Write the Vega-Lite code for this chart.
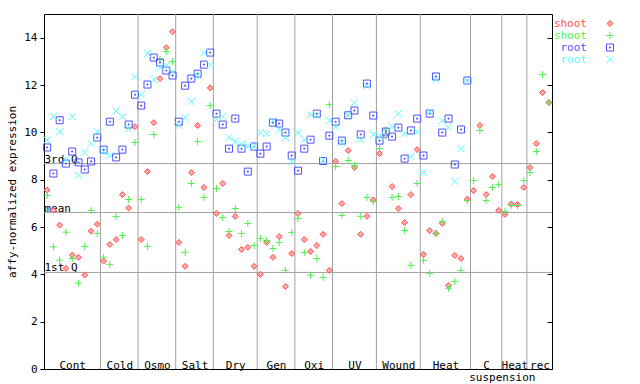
{
  "$schema": "https://vega.github.io/schema/vega-lite/v6.json",
  "width": 508,
  "height": 355,
  "autosize": {"type": "none"},
  "padding": {"left": 44, "top": 14, "right": 88, "bottom": 15},
  "config": {
    "view": {"stroke": "black", "strokeWidth": 1},
    "font": "DejaVu Sans Mono",
    "axis": {"labelFont": "DejaVu Sans Mono", "labelFontSize": 11, "labelColor": "black", "titleFont": "DejaVu Sans Mono", "titleFontSize": 11, "titleFontWeight": "normal", "titleColor": "black"},
    "axisX": {
      "labelExpr": "datum.value == 4 ? 'Cont' : datum.value == 11.5 ? 'Cold' : datum.value == 17.5 ? 'Osmo' : datum.value == 23.5 ? 'Salt' : datum.value == 30 ? 'Dry' : datum.value == 36.5 ? 'Gen' : datum.value == 42.5 ? 'Oxi' : datum.value == 49 ? 'UV' : datum.value == 56 ? 'Wound' : datum.value == 63.5 ? 'Heat' : datum.value == 70 ? 'C' : datum.value == 72.5 ? 'suspension' : datum.value == 74.5 ? 'Heat' : 'rec'",
      "ticks": false, "tickSize": 0, "domain": false, "grid": false, "title": null,
      "labelPadding": {"condition": {"test": "datum.value == 72.5", "value": 11.5}, "value": -1},
      "labelBaseline": "alphabetic", "labelAlign": "center", "labelOverlap": false, "labelFlush": false, "zindex": 1}
  },
  "datasets": {
    "groups": [
      {"condition": "Cont", "end": 8.5}, {"condition": "Cold", "end": 14.5}, {"condition": "Osmo", "end": 20.5},
      {"condition": "Salt", "end": 26.5}, {"condition": "Dry", "end": 33.5}, {"condition": "Gen", "end": 39.5},
      {"condition": "Oxi", "end": 45.5}, {"condition": "UV", "end": 52.5}, {"condition": "Wound", "end": 59.5},
      {"condition": "Heat", "end": 67.5}, {"condition": "C suspension", "end": 72.5}, {"condition": "Heat suspension", "end": 76.5}
    ],
    "quartiles": [
      {"stat": "3rd Q", "v": 8.68}, {"stat": "mean", "v": 6.61}, {"stat": "1st Q", "v": 4.08}
    ],
    "expr": [
      {"s":0,"series":"shoot1","v":7.56},{"s":1,"series":"shoot1","v":6.71},{"s":2,"series":"shoot1","v":6.08},{"s":3,"series":"shoot1","v":4.25},{"s":4,"series":"shoot1","v":4.81},{"s":5,"series":"shoot1","v":4.72},{"s":6,"series":"shoot1","v":3.97},{"s":7,"series":"shoot1","v":5.82},{"s":8,"series":"shoot1","v":6.12},{"s":9,"series":"shoot1","v":4.56},
      {"s":10,"series":"shoot1","v":5.26},{"s":11,"series":"shoot1","v":5.47},{"s":12,"series":"shoot1","v":7.37},{"s":13,"series":"shoot1","v":6.8},{"s":14,"series":"shoot1","v":10.24},{"s":15,"series":"shoot1","v":5.47},{"s":16,"series":"shoot1","v":8.34},{"s":17,"series":"shoot1","v":10.41},{"s":18,"series":"shoot1","v":12.27},{"s":19,"series":"shoot1","v":13.58},
      {"s":20,"series":"shoot1","v":14.25},{"s":21,"series":"shoot1","v":5.35},{"s":22,"series":"shoot1","v":4.34},{"s":23,"series":"shoot1","v":8.3},{"s":24,"series":"shoot1","v":10.29},{"s":25,"series":"shoot1","v":7.67},{"s":26,"series":"shoot1","v":11.88},{"s":27,"series":"shoot1","v":6.57},{"s":28,"series":"shoot1","v":7.84},{"s":29,"series":"shoot1","v":5.64},
      {"s":30,"series":"shoot1","v":6.45},{"s":31,"series":"shoot1","v":5.05},{"s":32,"series":"shoot1","v":5.14},{"s":33,"series":"shoot1","v":4.34},{"s":34,"series":"shoot1","v":4.0},{"s":35,"series":"shoot1","v":5.35},{"s":36,"series":"shoot1","v":4.72},{"s":37,"series":"shoot1","v":5.6},{"s":38,"series":"shoot1","v":3.49},{"s":39,"series":"shoot1","v":4.88},
      {"s":40,"series":"shoot1","v":6.57},{"s":41,"series":"shoot1","v":5.47},{"s":42,"series":"shoot1","v":4.97},{"s":43,"series":"shoot1","v":5.22},{"s":44,"series":"shoot1","v":5.69},{"s":45,"series":"shoot1","v":4.17},{"s":46,"series":"shoot1","v":8.77},{"s":47,"series":"shoot1","v":6.99},{"s":48,"series":"shoot1","v":9.23},{"s":49,"series":"shoot1","v":8.51},
      {"s":50,"series":"shoot1","v":5.69},{"s":51,"series":"shoot1","v":6.45},{"s":52,"series":"shoot1","v":7.14},{"s":53,"series":"shoot1","v":9.1},{"s":54,"series":"shoot1","v":9.86},{"s":55,"series":"shoot1","v":7.71},{"s":56,"series":"shoot1","v":6.78},{"s":57,"series":"shoot1","v":6.19},{"s":58,"series":"shoot1","v":7.37},{"s":59,"series":"shoot1","v":9.27},
      {"s":60,"series":"shoot1","v":4.84},{"s":61,"series":"shoot1","v":5.85},{"s":62,"series":"shoot1","v":5.73},{"s":63,"series":"shoot1","v":6.15},{"s":64,"series":"shoot1","v":3.53},{"s":65,"series":"shoot1","v":4.8},{"s":66,"series":"shoot1","v":4.67},{"s":67,"series":"shoot1","v":7.18},{"s":68,"series":"shoot1","v":7.54},{"s":69,"series":"shoot1","v":10.29},
      {"s":70,"series":"shoot1","v":7.37},{"s":71,"series":"shoot1","v":8.13},{"s":72,"series":"shoot1","v":6.7},{"s":73,"series":"shoot1","v":6.53},{"s":74,"series":"shoot1","v":6.97},{"s":75,"series":"shoot1","v":6.95},{"s":76,"series":"shoot1","v":7.67},{"s":77,"series":"shoot1","v":8.51},{"s":78,"series":"shoot1","v":9.53},{"s":79,"series":"shoot1","v":11.68},{"s":80,"series":"shoot1","v":11.26},

      {"s":0,"series":"shoot2","v":7.34},{"s":1,"series":"shoot2","v":5.16},{"s":2,"series":"shoot2","v":4.6},{"s":3,"series":"shoot2","v":5.78},{"s":4,"series":"shoot2","v":4.67},{"s":5,"series":"shoot2","v":3.63},{"s":6,"series":"shoot2","v":5.18},{"s":7,"series":"shoot2","v":6.7},{"s":8,"series":"shoot2","v":5.73},{"s":9,"series":"shoot2","v":4.72},
      {"s":10,"series":"shoot2","v":4.42},{"s":11,"series":"shoot2","v":6.44},{"s":12,"series":"shoot2","v":5.64},{"s":13,"series":"shoot2","v":7.16},{"s":14,"series":"shoot2","v":9.57},{"s":15,"series":"shoot2","v":7.16},{"s":16,"series":"shoot2","v":5.18},{"s":17,"series":"shoot2","v":9.91},{"s":18,"series":"shoot2","v":13.07},{"s":19,"series":"shoot2","v":13.41},
      {"s":20,"series":"shoot2","v":12.99},{"s":21,"series":"shoot2","v":6.83},{"s":22,"series":"shoot2","v":4.93},{"s":23,"series":"shoot2","v":7.84},{"s":24,"series":"shoot2","v":9.61},{"s":25,"series":"shoot2","v":7.25},{"s":26,"series":"shoot2","v":11.13},{"s":27,"series":"shoot2","v":7.63},{"s":28,"series":"shoot2","v":6.4},{"s":29,"series":"shoot2","v":5.81},
      {"s":30,"series":"shoot2","v":6.78},{"s":31,"series":"shoot2","v":5.73},{"s":32,"series":"shoot2","v":6.15},{"s":33,"series":"shoot2","v":5.22},{"s":34,"series":"shoot2","v":5.52},{"s":35,"series":"shoot2","v":5.43},{"s":36,"series":"shoot2","v":5.09},{"s":37,"series":"shoot2","v":5.35},{"s":38,"series":"shoot2","v":4.17},{"s":39,"series":"shoot2","v":5.77},
      {"s":40,"series":"shoot2","v":6.36},{"s":41,"series":"shoot2","v":4.93},{"s":42,"series":"shoot2","v":3.96},{"s":43,"series":"shoot2","v":4.67},{"s":44,"series":"shoot2","v":3.87},{"s":45,"series":"shoot2","v":11.17},{"s":46,"series":"shoot2","v":8.56},{"s":47,"series":"shoot2","v":6.49},{"s":48,"series":"shoot2","v":8.81},{"s":49,"series":"shoot2","v":8.6},
      {"s":50,"series":"shoot2","v":6.45},{"s":51,"series":"shoot2","v":7.25},{"s":52,"series":"shoot2","v":7.08},{"s":53,"series":"shoot2","v":9.31},{"s":54,"series":"shoot2","v":10.1},{"s":55,"series":"shoot2","v":7.25},{"s":56,"series":"shoot2","v":7.29},{"s":57,"series":"shoot2","v":5.85},{"s":58,"series":"shoot2","v":4.38},{"s":59,"series":"shoot2","v":7.84},
      {"s":60,"series":"shoot2","v":4.59},{"s":61,"series":"shoot2","v":4.04},{"s":62,"series":"shoot2","v":5.73},{"s":63,"series":"shoot2","v":6.23},{"s":64,"series":"shoot2","v":3.41},{"s":65,"series":"shoot2","v":3.7},{"s":66,"series":"shoot2","v":4.17},{"s":67,"series":"shoot2","v":7.12},{"s":68,"series":"shoot2","v":7.96},{"s":69,"series":"shoot2","v":10.08},
      {"s":70,"series":"shoot2","v":7.12},{"s":71,"series":"shoot2","v":7.67},{"s":72,"series":"shoot2","v":7.8},{"s":73,"series":"shoot2","v":6.66},{"s":74,"series":"shoot2","v":6.91},{"s":75,"series":"shoot2","v":6.91},{"s":76,"series":"shoot2","v":7.96},{"s":77,"series":"shoot2","v":8.3},{"s":78,"series":"shoot2","v":9.19},{"s":79,"series":"shoot2","v":12.44},{"s":80,"series":"shoot2","v":11.26},

      {"s":0,"series":"root1","v":9.36},{"s":1,"series":"root1","v":8.26},{"s":2,"series":"root1","v":10.51},{"s":3,"series":"root1","v":8.68},{"s":4,"series":"root1","v":9.19},{"s":5,"series":"root1","v":8.73},{"s":6,"series":"root1","v":8.43},{"s":7,"series":"root1","v":8.77},{"s":8,"series":"root1","v":9.78},{"s":9,"series":"root1","v":9.27},
      {"s":10,"series":"root1","v":10.45},{"s":11,"series":"root1","v":8.94},{"s":12,"series":"root1","v":9.27},{"s":13,"series":"root1","v":10.33},{"s":14,"series":"root1","v":11.59},{"s":15,"series":"root1","v":11.13},{"s":16,"series":"root1","v":12.02},{"s":17,"series":"root1","v":13.16},{"s":18,"series":"root1","v":12.95},{"s":19,"series":"root1","v":12.61},
      {"s":20,"series":"root1","v":12.4},{"s":21,"series":"root1","v":10.45},{"s":22,"series":"root1","v":11.97},{"s":23,"series":"root1","v":12.27},{"s":24,"series":"root1","v":12.48},{"s":25,"series":"root1","v":12.86},{"s":26,"series":"root1","v":13.37},{"s":27,"series":"root1","v":10.79},{"s":28,"series":"root1","v":10.33},{"s":29,"series":"root1","v":9.31},
      {"s":30,"series":"root1","v":10.58},{"s":31,"series":"root1","v":9.31},{"s":32,"series":"root1","v":8.34},{"s":33,"series":"root1","v":9.4},{"s":34,"series":"root1","v":9.1},{"s":35,"series":"root1","v":9.4},{"s":36,"series":"root1","v":10.41},{"s":37,"series":"root1","v":10.37},{"s":38,"series":"root1","v":9.99},{"s":39,"series":"root1","v":9.02},
      {"s":40,"series":"root1","v":8.38},{"s":41,"series":"root1","v":9.31},{"s":42,"series":"root1","v":9.69},{"s":43,"series":"root1","v":10.79},{"s":44,"series":"root1","v":8.79},{"s":45,"series":"root1","v":9.86},{"s":46,"series":"root1","v":10.45},{"s":47,"series":"root1","v":9.65},{"s":48,"series":"root1","v":10.72},{"s":49,"series":"root1","v":10.92},
      {"s":50,"series":"root1","v":9.91},{"s":51,"series":"root1","v":12.06},{"s":52,"series":"root1","v":10.71},{"s":53,"series":"root1","v":9.65},{"s":54,"series":"root1","v":10.03},{"s":55,"series":"root1","v":9.82},{"s":56,"series":"root1","v":10.2},{"s":57,"series":"root1","v":8.89},{"s":58,"series":"root1","v":10.08},{"s":59,"series":"root1","v":10.58},
      {"s":60,"series":"root1","v":9.02},{"s":61,"series":"root1","v":10.79},{"s":62,"series":"root1","v":12.36},{"s":63,"series":"root1","v":9.99},{"s":64,"series":"root1","v":10.58},{"s":65,"series":"root1","v":8.64},{"s":66,"series":"root1","v":10.12},{"s":67,"series":"root1","v":12.19},

      {"s":0,"series":"root2","v":9.67},{"s":1,"series":"root2","v":10.67},{"s":2,"series":"root2","v":10.03},{"s":3,"series":"root2","v":8.85},{"s":4,"series":"root2","v":10.67},{"s":5,"series":"root2","v":8.18},{"s":6,"series":"root2","v":9.15},{"s":7,"series":"root2","v":9.53},{"s":8,"series":"root2","v":10.03},{"s":9,"series":"root2","v":9.19},
      {"s":10,"series":"root2","v":9.02},{"s":11,"series":"root2","v":10.9},{"s":12,"series":"root2","v":10.67},{"s":13,"series":"root2","v":10.16},{"s":14,"series":"root2","v":12.36},{"s":15,"series":"root2","v":11.59},{"s":16,"series":"root2","v":13.33},{"s":17,"series":"root2","v":12.22},{"s":18,"series":"root2","v":12.74},{"s":19,"series":"root2","v":12.82},
      {"s":20,"series":"root2","v":12.55},{"s":21,"series":"root2","v":10.29},{"s":22,"series":"root2","v":10.62},{"s":23,"series":"root2","v":11.3},{"s":24,"series":"root2","v":12.4},{"s":25,"series":"root2","v":13.37},{"s":26,"series":"root2","v":12.86},{"s":27,"series":"root2","v":10.54},{"s":28,"series":"root2","v":10.67},{"s":29,"series":"root2","v":9.78},
      {"s":30,"series":"root2","v":9.61},{"s":31,"series":"root2","v":9.48},{"s":32,"series":"root2","v":9.42},{"s":33,"series":"root2","v":9.42},{"s":34,"series":"root2","v":9.99},{"s":35,"series":"root2","v":9.94},{"s":36,"series":"root2","v":10.5},{"s":37,"series":"root2","v":10.12},{"s":38,"series":"root2","v":9.78},{"s":39,"series":"root2","v":8.77},
      {"s":40,"series":"root2","v":9.99},{"s":41,"series":"root2","v":9.69},{"s":42,"series":"root2","v":10.75},{"s":43,"series":"root2","v":10.71},{"s":44,"series":"root2","v":8.82},{"s":45,"series":"root2","v":10.5},{"s":46,"series":"root2","v":10.24},{"s":47,"series":"root2","v":9.57},{"s":48,"series":"root2","v":10.74},{"s":49,"series":"root2","v":11.25},
      {"s":50,"series":"root2","v":9.69},{"s":51,"series":"root2","v":11.97},{"s":52,"series":"root2","v":9.91},{"s":53,"series":"root2","v":9.82},{"s":54,"series":"root2","v":9.86},{"s":55,"series":"root2","v":10.24},{"s":56,"series":"root2","v":10.79},{"s":57,"series":"root2","v":9.94},{"s":58,"series":"root2","v":8.98},{"s":59,"series":"root2","v":10.03},
      {"s":60,"series":"root2","v":8.3},{"s":61,"series":"root2","v":10.86},{"s":62,"series":"root2","v":12.24},{"s":63,"series":"root2","v":10.5},{"s":64,"series":"root2","v":10.2},{"s":65,"series":"root2","v":7.92},{"s":66,"series":"root2","v":9.31},{"s":67,"series":"root2","v":12.17}
    ]
  },
  "layer": [
    {
      "data": {"name": "groups"},
      "mark": {"type": "rule", "stroke": "#a0a0a0", "strokeWidth": 1},
      "encoding": {
        "x": {"field": "end", "type": "quantitative", "scale": {"domain": [-0.5, 80.5], "nice": false, "zero": false}, "title": null,
          "axis": {"values": [4, 11.5, 17.5, 23.5, 30, 36.5, 42.5, 49, 56, 63.5, 70, 72.5, 74.5, 78.5]}}
      }
    },
    {
      "data": {"name": "quartiles"},
      "mark": {"type": "rule", "stroke": "#a0a0a0", "strokeWidth": 1},
      "encoding": {
        "y": {"field": "v", "type": "quantitative", "scale": {"domain": [0, 15], "nice": false},
          "axis": {"orient": "right", "values": [0, 2, 4, 6, 8, 10, 12, 14], "labels": false, "domain": false, "grid": false, "ticks": true, "tickSize": -5, "tickColor": "black", "tickWidth": 1, "title": null}}
      }
    },
    {
      "data": {"name": "quartiles"},
      "mark": {"type": "text", "align": "left", "baseline": "alphabetic", "dy": -1, "dx": 0.5, "fontSize": 11, "font": "DejaVu Sans Mono", "color": "black"},
      "encoding": {
        "x": {"datum": -0.5, "type": "quantitative", "title": null,
          "axis": {"values": [4, 11.5, 17.5, 23.5, 30, 36.5, 42.5, 49, 56, 63.5, 70, 72.5, 74.5, 78.5]}},
        "y": {"field": "v", "type": "quantitative", "axis": null},
        "text": {"field": "stat"}
      }
    },
    {
      "data": {"name": "expr"},
      "mark": {"type": "point", "filled": false, "size": 49, "strokeWidth": 1, "opacity": 1},
      "encoding": {
        "x": {"field": "s", "type": "quantitative", "scale": {"domain": [-0.5, 80.5], "nice": false, "zero": false}, "title": null,
          "axis": {"values": [4, 11.5, 17.5, 23.5, 30, 36.5, 42.5, 49, 56, 63.5, 70, 72.5, 74.5, 78.5]}},
        "y": {"field": "v", "type": "quantitative", "scale": {"domain": [0, 15], "nice": false},
          "axis": {"orient": "left", "values": [0, 2, 4, 6, 8, 10, 12, 14], "domain": false, "grid": false, "ticks": true, "tickSize": 4, "tickColor": "black", "tickWidth": 1, "labelPadding": 3, "title": "affy-normalized expression", "titlePadding": 6}},
        "color": {"field": "series", "type": "nominal",
          "scale": {"domain": ["shoot1", "shoot2", "root1", "root2"], "range": ["#ff4f4f", "#4fef4f", "#4f4fff", "#4fffff"]},
          "legend": {"title": null, "orient": "right", "offset": -4, "padding": 4, "rowPadding": 0,
            "labelExpr": "slice(datum.label, 0, -1)", "labelAlign": "right", "labelOffset": -28.5, "symbolOffset": 51.5,
            "symbolSize": 49, "symbolStrokeWidth": 1, "labelFont": "DejaVu Sans Mono", "labelFontSize": 11,
            "labelColor": {"expr": "scale('color', datum.value)"}}},
        "shape": {"field": "series", "type": "nominal",
          "scale": {"domain": ["shoot1", "shoot2", "root1", "root2"],
            "range": ["M0,-0.85L0.85,0L0,0.85L-0.85,0Z", "M-1,0L1,0M0,-1L0,1", "M-1,-1L1,-1L1,1L-1,1ZM-0.15,-0.15L0.15,-0.15L0.15,0.15L-0.15,0.15Z", "M-1,-1L1,1M-1,1L1,-1"]}},
        "fill": {"field": "series", "type": "nominal",
          "scale": {"domain": ["shoot1", "shoot2", "root1", "root2"], "range": ["#ffa8a8", "transparent", "transparent", "transparent"]}}
      }
    }
  ],
  "resolve": {"axis": {"y": "independent"}}
}
